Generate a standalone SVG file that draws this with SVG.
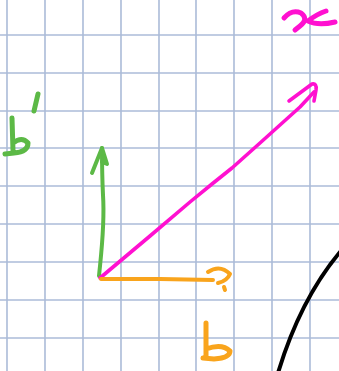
<svg xmlns="http://www.w3.org/2000/svg" width="339" height="371" viewBox="0 0 339 371">
<style>
.grid line{stroke:#abbbd8;stroke-width:1.6}
.ink{fill:none;stroke-linecap:round;stroke-linejoin:round}
.g{stroke:#5cb946;stroke-width:4}
.m{stroke:#ff10d0;stroke-width:3.6}
.o{stroke:#f9a41c;stroke-width:4}
.k{stroke:#000;stroke-width:4}
.lbl{stroke-width:5}
</style>
<rect width="339" height="371" fill="#fff"/>
<g class="grid" id="grid">
<line x1="7" y1="0" x2="7" y2="371"/>
<line x1="45" y1="0" x2="45" y2="371"/>
<line x1="83" y1="0" x2="83" y2="371"/>
<line x1="121" y1="0" x2="121" y2="371"/>
<line x1="159" y1="0" x2="159" y2="371"/>
<line x1="196" y1="0" x2="196" y2="371"/>
<line x1="234" y1="0" x2="234" y2="371"/>
<line x1="272" y1="0" x2="272" y2="371"/>
<line x1="310" y1="0" x2="310" y2="371"/>
<line x1="0" y1="35" x2="339" y2="35"/>
<line x1="0" y1="73" x2="339" y2="73"/>
<line x1="0" y1="111" x2="339" y2="111"/>
<line x1="0" y1="148" x2="339" y2="148"/>
<line x1="0" y1="186" x2="339" y2="186"/>
<line x1="0" y1="224" x2="339" y2="224"/>
<line x1="0" y1="262" x2="339" y2="262"/>
<line x1="0" y1="300" x2="339" y2="300"/>
<line x1="0" y1="338" x2="339" y2="338"/>
</g>
<g id="connectors">
<g id="vec-b-prime">
<path class="ink g" d="M99,276 C101,255 105,225 103,195 C102,175 102,160 102,148"/>
<path class="ink g" d="M92,173 L102,148 L107,164 L102,162"/>
</g>
<g id="vec-x">
<path class="ink m" d="M100,278 L150,236 L190,202 L212,184 L232,168 L260,143 L300,107 L314,92"/>
<path class="ink m" d="M289,101 L312,84 Q317,83 316,90 L314,101"/>
</g>
<g id="vec-b">
<path class="ink o" d="M101,279 L160,279 L213,280"/>
<path class="ink o" d="M208,272 Q220,264 230,274 Q227,281 218,283"/>
<path class="ink o" d="M224,287 L225,290"/>
</g>
</g>
<g id="curve">
<path class="ink k" d="M340,252 Q300,300 278,373"/>
</g>
<g id="label-b-prime">
<path class="ink g lbl" d="M12,118 L13,151 M13,143 Q22,136 28,143 Q28,152 14,153 L5,154"/>
<path class="ink g lbl" d="M38,94 L34,111"/>
</g>
<g id="label-x">
<path class="ink m lbl" d="M284,18 Q292,9 301,13 Q309,19 300,26 L295,30"/>
<path class="ink m lbl" d="M326,11 Q317,14 308,21 Q318,26 335,22"/>
</g>
<g id="label-b">
<path class="ink o lbl" d="M206,323 L206,358 M206,349 Q222,343 230,351 Q230,358 214,359 L203,358"/>
</g>
</svg>
